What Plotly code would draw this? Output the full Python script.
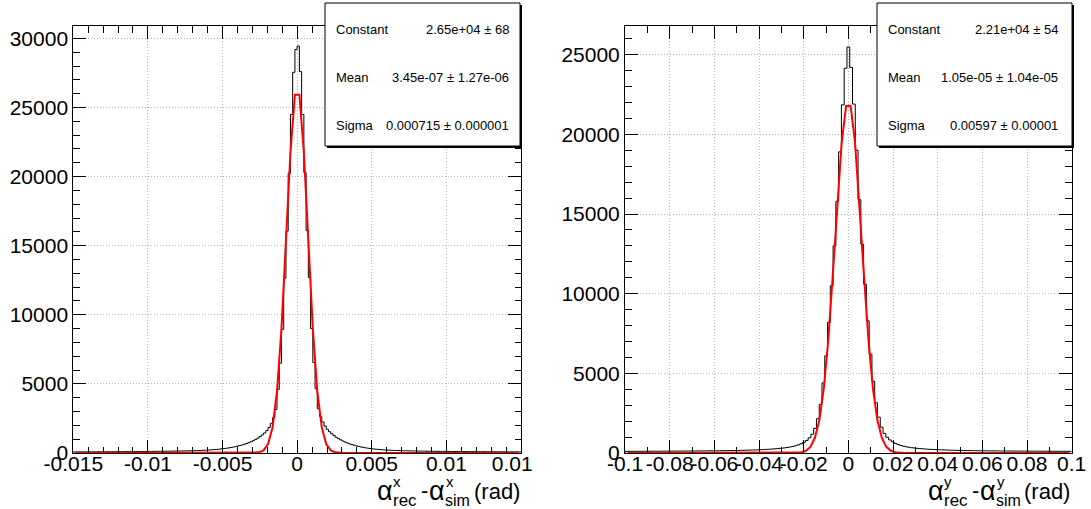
import numpy as np
import plotly.graph_objects as go

W, H = 1091, 509
FONT = "Liberation Sans, Arial, sans-serif"

# ---------------- data ----------------
# left histogram: alpha_x residual, 200 bins on [-0.015, 0.015]
hx_lo, hx_hi, hx_nbins = -0.015, 0.015, 200
# counts from the central bin outwards (negative side / positive side)
hx_neg = [29200, 27550, 24500, 20250, 16050, 12650, 8950, 6500, 4600, 3150,
          2550, 2150, 1850, 1620, 1450, 1310, 1190, 1080, 985, 900,
          820, 750, 690, 635, 585, 540, 500, 462, 428, 398,
          370, 345, 322, 302, 284, 268, 254, 241, 229,
          215, 205, 197, 190, 183, 177, 172, 167, 162, 158,
          154, 150, 147, 144, 141, 138, 135, 133, 130, 128,
          126, 124, 122, 120, 118, 116, 114, 113, 111, 110,
          108, 107, 105, 104, 103, 101, 100, 99, 98, 97,
          96, 95, 94, 93, 92, 91, 90, 89, 88, 87,
          87, 86, 85, 84, 84, 83, 82, 82, 81, 80, 80]
hx_pos = [29450, 27600, 24500, 20300, 16100, 12700, 9000, 6550, 4650, 3200,
          2650, 2250, 1950, 1720, 1540, 1390, 1260, 1140, 1040, 950,
          865, 790, 725, 665, 610, 560, 515, 475, 440, 408,
          378, 352, 328, 306, 287, 270, 255, 241, 229,
          218, 208, 200, 192, 186, 180, 174, 169, 164, 160,
          156, 152, 149, 145, 142, 139, 137, 134, 132, 129,
          127, 125, 123, 121, 119, 118, 116, 114, 113, 111,
          110, 108, 107, 106, 104, 103, 102, 101, 100, 99,
          98, 97, 96, 95, 94, 93, 92, 91, 90, 90,
          89, 88, 87, 87, 86, 85, 85, 84, 83, 83, 82]

# right histogram: alpha_y residual, 161 bins on [-0.1, 0.1]
hy_lo, hy_hi, hy_nbins = -0.1, 0.1, 161
hy_center = 25480
hy_neg = [24150, 21850, 18900, 15800, 13000, 10500, 8200, 6100, 4400, 3050,
          2150, 1550, 1180, 950, 790, 670, 580, 510, 455, 410,
          375, 345, 320, 300, 283, 268, 255, 243, 232, 222,
          213, 205, 198, 191, 185, 179, 174, 169, 164, 160,
          157, 154, 151, 149, 146, 144, 142, 140, 138, 136,
          134, 132, 131, 129, 128, 126, 125, 124, 122, 121,
          120, 119, 118, 117, 116, 115, 114, 113, 112, 111,
          110, 109, 108, 108, 107, 106, 105, 105, 104, 103]
hy_pos = [24200, 21900, 19000, 15900, 13100, 10600, 8300, 6200, 4500, 3150,
          2250, 1620, 1230, 990, 820, 700, 605, 530, 470, 425,
          388, 357, 330, 308, 290, 274, 260, 247, 236, 226,
          217, 209, 201, 194, 188, 182, 177, 172, 167, 163,
          159, 156, 153, 150, 148, 145, 143, 141, 139, 137,
          135, 133, 132, 130, 129, 127, 126, 125, 123, 122,
          121, 120, 119, 118, 117, 116, 115, 114, 113, 112,
          111, 110, 109, 109, 108, 107, 106, 106, 105, 104]

# gaussian fit results (from the stat boxes)
fit_x = dict(const=2.65e4, mean=3.45e-07, sigma=0.000715)
fit_y = dict(const=2.21e4, mean=1.05e-05, sigma=0.00597)
stats_x = [("Constant", "2.65e+04 \u00b1 68"),
           ("Mean", "3.45e-07 \u00b1 1.27e-06"),
           ("Sigma", "0.000715 \u00b1 0.000001")]
stats_y = [("Constant", "2.21e+04 \u00b1 54"),
           ("Mean", "1.05e-05 \u00b1 1.04e-05"),
           ("Sigma", "0.00597 \u00b1 0.00001")]

x1_ticks = [-0.015, -0.01, -0.005, 0, 0.005, 0.01, 0.015]
x1_text = ["-0.015", "-0.01", "-0.005", "0", "0.005", "0.01", "0.01\u00a0\u00a0\u00a0"]
x2_ticks = [-0.1, -0.08, -0.06, -0.04, -0.02, 0, 0.02, 0.04, 0.06, 0.08, 0.1]
x2_text = ["-0.1", "-0.08", "-0.06", "-0.04", "-0.02", "0", "0.02", "0.04", "0.06", "0.08", "0.1"]
y1_ticks = [0, 5000, 10000, 15000, 20000, 25000, 30000]
y2_ticks = [0, 5000, 10000, 15000, 20000, 25000]
x1_minor_step, y1_minor_step = 0.001, 1000
x2_minor_step, y2_minor_step = 0.01, 1000
y1_max, y2_max = 30900, 26800

# ---------------- helpers ----------------
def px(x):
    return x / W

def py(y):
    return 1 - y / H

def step_xy(lo, hi, counts):
    n = len(counts)
    edges = lo + (hi - lo) * np.arange(n + 1) / n
    xs = np.concatenate([[lo], edges])
    ys = np.concatenate([[0], counts, [counts[-1]]])
    return xs, ys

def gauss_xy(lo, hi, p, npx=100):
    xs = lo + (hi - lo) * (np.arange(npx) + 0.5) / npx
    ys = p["const"] * np.exp(-0.5 * ((xs - p["mean"]) / p["sigma"]) ** 2)
    return xs, ys

counts_x = list(reversed(hx_neg)) + hx_pos
counts_y = list(reversed(hy_neg)) + [hy_center] + hy_pos

fig = go.Figure()
sx, sy = step_xy(hx_lo, hx_hi, counts_x)
fig.add_trace(go.Scatter(x=sx, y=sy, mode="lines", line=dict(color="black", width=1, shape="hv"),
                         xaxis="x", yaxis="y", hoverinfo="skip"))
gx, gy = gauss_xy(hx_lo, hx_hi, fit_x)
fig.add_trace(go.Scatter(x=gx, y=gy, mode="lines", line=dict(color="#ff0000", width=2),
                         xaxis="x", yaxis="y", hoverinfo="skip"))
sx, sy = step_xy(hy_lo, hy_hi, counts_y)
fig.add_trace(go.Scatter(x=sx, y=sy, mode="lines", line=dict(color="black", width=1, shape="hv"),
                         xaxis="x2", yaxis="y2", hoverinfo="skip"))
gx, gy = gauss_xy(hy_lo, hy_hi, fit_y)
fig.add_trace(go.Scatter(x=gx, y=gy, mode="lines", line=dict(color="#ff0000", width=2),
                         xaxis="x2", yaxis="y2", hoverinfo="skip"))

ydom = [py(453), py(26)]
xdom1 = [px(73.3), px(521)]
xdom2 = [px(625), px(1071.7)]
common = dict(showline=True, linecolor="black", linewidth=1, mirror="ticks",
              ticks="inside", ticklen=13, tickwidth=1, tickcolor="black",
              showgrid=True, gridcolor="#b4b4b4", griddash="1px,2px", gridwidth=1,
              zeroline=False, tickfont=dict(family=FONT, size=21, color="black"),
              tickangle=0, fixedrange=True, automargin=False, tickmode="array")
minor = dict(showline=False, mirror="ticks", ticks="inside", ticklen=6.5, tickwidth=1,
             tickcolor="black", showgrid=False, zeroline=False, showticklabels=False,
             fixedrange=True, automargin=False, tick0=0)
fig.update_layout(
    template="none",
    width=W, height=H, autosize=False,
    margin=dict(l=0, r=0, t=0, b=0, pad=0),
    paper_bgcolor="white", plot_bgcolor="white",
    showlegend=False,
    xaxis=dict(domain=xdom1, range=[hx_lo, hx_hi], anchor="y", ticklabelstandoff=-8,
               tickvals=x1_ticks, ticktext=x1_text, **common),
    yaxis=dict(domain=ydom, range=[0, y1_max], anchor="x",
               tickvals=y1_ticks, ticktext=[str(v) for v in y1_ticks], **common),
    xaxis2=dict(domain=xdom2, range=[hy_lo, hy_hi], anchor="y2", ticklabelstandoff=-8,
                tickvals=x2_ticks, ticktext=x2_text, **common),
    yaxis2=dict(domain=ydom, range=[0, y2_max], anchor="x2",
                tickvals=y2_ticks, ticktext=[str(v) for v in y2_ticks], **common),
    # overlay axes carrying the minor ticks
    xaxis3=dict(overlaying="x", anchor="y", range=[hx_lo, hx_hi], dtick=x1_minor_step, **minor),
    yaxis3=dict(overlaying="y", anchor="x", range=[0, y1_max], dtick=y1_minor_step, **minor),
    xaxis4=dict(overlaying="x2", anchor="y2", range=[hy_lo, hy_hi], dtick=x2_minor_step, **minor),
    yaxis4=dict(overlaying="y2", anchor="x2", range=[0, y2_max], dtick=y2_minor_step, **minor),
)
# invisible traces so the overlay axes get drawn
fig.add_trace(go.Scatter(x=[hx_lo], y=[0], mode="markers", marker=dict(opacity=0),
                         xaxis="x3", yaxis="y3", hoverinfo="skip"))
fig.add_trace(go.Scatter(x=[hy_lo], y=[0], mode="markers", marker=dict(opacity=0),
                         xaxis="x4", yaxis="y4", hoverinfo="skip"))

shapes = []
annotations = []

def stat_box(x0, x1, y0, y1, rows, xlab, xval):
    shapes.append(dict(type="rect", xref="paper", yref="paper", layer="above",
                       x0=px(x0 + 2), x1=px(x1 + 2), y0=py(y1 + 2), y1=py(y0 + 2),
                       fillcolor="black", line=dict(width=0)))
    shapes.append(dict(type="rect", xref="paper", yref="paper", layer="above",
                       x0=px(x0), x1=px(x1), y0=py(y1), y1=py(y0),
                       fillcolor="white", line=dict(color="black", width=1)))
    for (lab, val), yc in zip(rows, [29.3, 77.7, 125]):
        annotations.append(dict(xref="paper", yref="paper", x=px(xlab), y=py(yc), text=lab,
                                xanchor="left", yanchor="middle", showarrow=False,
                                font=dict(family=FONT, size=13, color="black")))
        annotations.append(dict(xref="paper", yref="paper", x=px(xval), y=py(yc), text=val,
                                xanchor="right", yanchor="middle", showarrow=False,
                                font=dict(family=FONT, size=13, color="black")))

stat_box(325, 520, 3, 146, stats_x, 334, 511)
stat_box(877, 1072, 3, 146, stats_y, 886, 1060)

def txt(x, y, s, size, anchor="left"):
    annotations.append(dict(xref="paper", yref="paper", x=px(x), y=py(y), text=s,
                            xanchor=anchor, yanchor="middle", showarrow=False,
                            borderpad=0, font=dict(family=FONT, size=size, color="black")))

def axis_title(x0, sup, xright):
    # alpha^{sup}_{rec} - alpha^{sup}_{sim} (rad)
    txt(x0, 491, "\u03b1", 27)
    txt(x0 + 16, 481, sup, 15)
    txt(x0 + 16, 500, "rec", 17)
    txt(x0 + 44, 490, "-", 22)
    txt(x0 + 52, 491, "\u03b1", 27)
    txt(x0 + 69, 481, sup, 15)
    txt(x0 + 68, 500, "sim", 16)
    txt(xright, 491, "(rad)", 22, anchor="right")

axis_title(376, "x", 521)
axis_title(927, "y", 1071)

fig.update_layout(shapes=shapes, annotations=annotations)
fig.write_html("out.html")
